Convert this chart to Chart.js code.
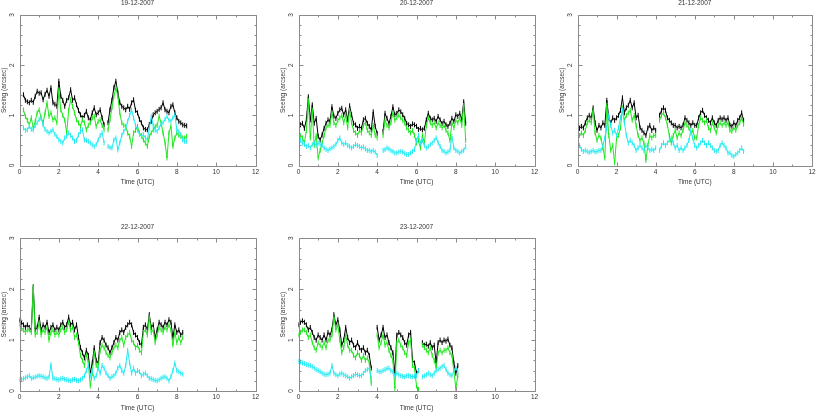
<!DOCTYPE html>
<html><head><meta charset="utf-8">
<script src="https://cdn.jsdelivr.net/npm/chart.js@4.4.1/dist/chart.umd.min.js"></script>
<style>
html,body{margin:0;padding:0;background:#fff;overflow:hidden;width:817px;height:412px;position:relative}
canvas{position:absolute}
</style></head><body>
<script>
// ---------- data ----------
const TITLES = ["19-12-2007","20-12-2007","21-12-2007","22-12-2007","23-12-2007"];
const X_TITLE = "Time (UTC)";
const Y_TITLE = "Seeing (arcsec)";
const X_TICKS = [0,2,4,6,8,10,12];
const Y_TICKS = [0,1,2,3];

const T_P1 = [0.2,0.3,0.4,0.5,0.6,0.7,0.8,0.9,1.0,1.1,1.2,1.3,1.4,1.5,1.6,1.7,1.8,1.9,2.0,2.1,2.2,2.3,2.4,2.5,2.6,2.7,2.8,2.9,3.0,3.1,3.2,3.3,3.4,3.5,3.6,3.7,3.8,3.9,4.0,4.1,4.2,4.3,4.4,4.5,4.6,4.7,4.8,4.9,5.0,5.1,5.2,5.3,5.4,5.5,5.6,5.7,5.8,5.9,6.0,6.1,6.2,6.3,6.4,6.5,6.6,6.7,6.8,6.9,7.0,7.1,7.2,7.3,7.4,7.5,7.6,7.7,7.8,7.9,8.0,8.1,8.2,8.3,8.4,8.5];
const T_P23 = [0.1,0.2,0.3,0.4,0.5,0.6,0.7,0.8,0.9,1.0,1.1,1.2,1.3,1.4,1.5,1.6,1.7,1.8,1.9,2.0,2.1,2.2,2.3,2.4,2.5,2.6,2.7,2.8,2.9,3.0,3.1,3.2,3.3,3.4,3.5,3.6,3.7,3.8,3.9,4.0,4.1,4.2,4.3,4.4,4.5,4.6,4.7,4.8,4.9,5.0,5.1,5.2,5.3,5.4,5.5,5.6,5.7,5.8,5.9,6.0,6.1,6.2,6.3,6.4,6.5,6.6,6.7,6.8,6.9,7.0,7.1,7.2,7.3,7.4,7.5,7.6,7.7,7.8,7.9,8.0,8.1,8.2,8.3,8.4,8.5];
const T_P4 = [0.0,0.1,0.2,0.3,0.4,0.5,0.6,0.7,0.8,0.9,1.0,1.1,1.2,1.3,1.4,1.5,1.6,1.7,1.8,1.9,2.0,2.1,2.2,2.3,2.4,2.5,2.6,2.7,2.8,2.9,3.0,3.1,3.2,3.3,3.4,3.5,3.6,3.7,3.8,3.9,4.0,4.1,4.2,4.3,4.4,4.5,4.6,4.7,4.8,4.9,5.0,5.1,5.2,5.3,5.4,5.5,5.6,5.7,5.8,5.9,6.0,6.1,6.2,6.3,6.4,6.5,6.6,6.7,6.8,6.9,7.0,7.1,7.2,7.3,7.4,7.5,7.6,7.7,7.8,7.9,8.0,8.1,8.2,8.3];
const T_P5 = [0.0,0.1,0.2,0.3,0.4,0.5,0.6,0.7,0.8,0.9,1.0,1.1,1.2,1.3,1.4,1.5,1.6,1.7,1.8,1.9,2.0,2.1,2.2,2.3,2.4,2.5,2.6,2.7,2.8,2.9,3.0,3.1,3.2,3.3,3.4,3.5,3.6,3.7,3.8,3.9,4.0,4.1,4.2,4.3,4.4,4.5,4.6,4.7,4.8,4.9,5.0,5.1,5.2,5.3,5.4,5.5,5.6,5.7,5.8,5.9,6.0,6.1,6.2,6.3,6.4,6.5,6.6,6.7,6.8,6.9,7.0,7.1,7.2,7.3,7.4,7.5,7.6,7.7,7.8,7.9,8.0,8.1];

// 19-12-2007
const BLACK_1 = [1.41,1.30,1.27,1.25,1.30,1.26,1.38,1.48,1.44,1.45, 1.31,1.42,1.50,1.38,1.55,1.25,1.22,1.18,1.68,1.38, 1.30,1.18,1.30,1.35,1.51,1.30,1.35,1.21,1.10,1.01, 0.95,1.00,1.08,0.95,0.91,1.05,1.15,1.01,1.05,1.11, 0.95,0.81,null,0.85,1.11,1.30,1.55,1.68,1.45,1.25, 1.18,1.15,1.11,1.18,1.12,1.25,1.31,1.10,1.05,0.92, 0.85,0.75,0.72,0.71,0.82,0.88,1.01,1.05,1.08,1.12, 1.15,1.25,1.11,1.08,1.05,1.18,1.21,1.05,0.95,0.88, 0.85,0.81,0.80,0.79];
const GREEN_1 = [1.11,0.98,0.90,0.81,0.95,0.75,0.88,1.05,1.11,0.95, 0.85,1.05,1.25,0.98,1.05,0.91,0.95,0.85,1.51,1.11, 1.00,0.91,0.65,1.10,1.31,1.18,1.05,0.91,0.85,0.78, 0.91,0.85,0.71,0.80,0.85,0.95,0.98,0.78,0.88,0.91, 0.80,0.71,null,0.71,0.91,1.15,1.38,1.55,1.38,1.05, 0.85,0.80,0.78,0.65,0.58,0.38,0.65,0.70,0.78,0.65, 0.60,0.51,0.45,0.38,0.58,0.65,0.71,0.78,0.80,0.98, 0.85,0.65,0.45,0.15,0.65,0.78,0.38,0.55,0.65,0.60, 0.58,0.55,0.55,0.58];
const CYAN_1 = [0.75,0.70,0.71,0.78,0.72,0.71,0.80,0.85,0.92,0.95, 0.81,0.72,0.68,0.65,0.68,0.71,0.62,0.58,0.51,0.48, 0.45,0.55,0.58,0.65,0.60,0.55,0.48,0.50,0.61,0.68, 0.71,0.51,0.50,0.48,0.45,0.41,0.38,0.42,0.51,0.60, 0.65,0.45,null,0.38,0.36,0.35,0.51,0.55,0.31,0.45, 0.60,0.68,0.75,0.88,1.00,1.11,0.95,0.80,0.71,0.62, 0.58,0.62,0.55,0.51,0.75,0.98,0.80,0.70,0.68,0.75, 0.82,0.85,0.92,0.98,0.90,0.88,0.95,1.01,0.71,0.68, 0.62,0.51,0.48,0.48];

// 20-12-2007
const BLACK_2 = [0.81,0.84,0.74,0.91,1.37,0.91,1.21,0.84,0.94,0.58, 0.51,0.61,0.74,0.84,0.91,0.88,1.17,0.98,0.94,1.04, 1.11,1.14,1.01,1.11,0.91,1.19,1.01,0.84,0.81,0.74, 0.78,0.74,0.91,0.94,0.84,0.78,0.71,1.07,0.78,0.64, null,null,0.68,1.04,0.94,0.84,0.98,1.17,1.01,1.04, 1.11,1.07,1.01,0.94,0.84,0.81,0.78,0.83,0.81,0.78, 0.72,0.74,0.71,0.74,0.91,1.04,0.94,0.91,0.94,0.88, 0.98,0.91,0.84,0.88,0.81,0.78,0.84,0.94,0.88,1.01, 0.98,1.04,0.91,1.27,0.84];
const GREEN_2 = [0.60,0.55,0.45,0.70,1.30,0.55,1.10,0.40,0.60,0.15, 0.30,0.45,0.60,0.75,0.80,0.80,1.05,0.85,0.80,0.90, 0.95,1.00,0.85,1.00,0.75,1.10,0.85,0.70,0.65,0.60, 0.70,0.65,0.80,0.85,0.70,0.65,0.60,0.80,0.60,0.55, null,null,0.60,0.90,0.80,0.75,0.85,1.05,0.90,0.95, 1.00,0.95,0.90,0.85,0.75,0.70,0.65,0.70,0.60,0.45, 0.50,0.35,0.60,0.45,0.80,0.95,0.85,0.80,0.85,0.75, 0.85,0.80,0.75,0.80,0.70,0.65,0.50,0.85,0.75,0.90, 0.85,0.95,0.80,1.20,0.50];
const CYAN_2 = [0.50,0.45,0.42,0.38,0.40,0.35,0.42,0.45,0.40,0.45, 0.42,0.40,0.35,0.32,0.30,0.33,0.35,0.38,0.42,0.50, 0.55,0.45,0.42,0.45,0.40,0.38,0.35,0.38,0.42,0.40, 0.38,0.35,0.37,0.33,0.30,0.30,0.28,0.30,0.27,0.20, null,null,0.30,0.32,0.35,0.33,0.30,0.28,0.25,0.25, 0.27,0.28,0.27,0.24,0.22,0.22,0.25,0.28,0.32,0.50, 0.60,0.45,0.50,0.40,0.35,0.38,0.42,0.45,0.50,0.55, 0.45,0.38,0.30,0.28,0.25,0.27,0.30,0.58,0.35,0.30, 0.28,0.25,0.28,0.30,0.38];

// 21-12-2007
const BLACK_3 = [0.74,0.78,0.75,0.85,0.95,1.00,0.95,1.15,0.85,0.70, 0.80,0.75,0.85,0.80,1.30,0.95,0.85,0.95,0.90,0.95, 1.00,1.10,1.35,1.05,1.15,1.20,1.30,1.15,1.25,0.95, 1.00,0.75,0.70,0.65,0.60,0.75,0.80,0.70,0.75,0.70, null,1.00,1.10,1.15,1.10,0.95,0.90,0.85,0.80,0.80, 0.75,0.78,0.75,0.80,0.95,0.90,0.85,0.80,0.85,0.80, 0.80,0.95,1.05,1.10,1.00,0.95,0.90,0.85,0.95,0.85, 0.80,0.90,0.95,0.92,0.95,0.90,0.95,0.80,0.78,0.85, 0.80,0.90,0.95,1.05,0.90];
const GREEN_3 = [0.60,0.65,0.60,0.70,0.85,0.90,0.85,1.10,0.65,0.50, 0.60,0.55,0.35,0.15,1.20,0.60,0.30,0.40,0.05,0.55, 0.60,0.75,1.15,0.90,1.00,1.05,1.10,0.90,1.00,0.80, 0.60,0.50,0.55,0.45,0.10,0.40,0.60,0.55,0.60,0.60, null,0.90,1.00,1.05,0.95,0.80,0.60,0.45,0.60,0.70, 0.55,0.65,0.60,0.70,0.85,0.80,0.75,0.65,0.70,0.55, 0.55,0.80,0.95,0.90,0.85,0.90,0.75,0.70,0.85,0.75, 0.65,0.80,0.85,0.80,0.85,0.80,0.85,0.70,0.68,0.75, 0.70,0.80,0.85,0.95,0.82];
const CYAN_3 = [0.40,0.32,0.28,0.30,0.28,0.26,0.28,0.30,0.27,0.28, 0.30,0.30,0.40,0.55,0.75,1.00,0.80,0.65,0.70,0.60, 0.75,0.95,1.10,0.85,0.60,0.45,0.50,0.45,0.40,0.30, 0.35,0.40,0.35,0.30,0.40,0.35,0.30,0.32,0.30,0.35, null,0.30,0.40,0.45,0.40,0.45,0.50,0.55,0.45,0.35, 0.40,0.30,0.35,0.30,0.35,0.40,0.50,0.70,0.55,0.40, 0.35,0.40,0.45,0.50,0.45,0.40,0.45,0.40,0.35,0.30, 0.28,0.30,0.40,0.45,0.40,0.35,0.25,0.25,0.20,0.18, 0.22,0.25,0.30,0.35,0.28];

// 22-12-2007
const BLACK_4 = [1.39,1.35,1.30,1.25,1.30,1.25,1.20,2.05,1.20,1.25, 1.45,1.20,1.30,1.25,1.35,1.15,1.25,1.30,1.20,1.25, 1.20,1.30,1.35,1.25,1.30,1.45,1.30,1.35,1.20,1.30, 1.05,0.85,0.75,0.65,0.80,0.70,0.35,0.55,0.85,0.60, 0.55,0.95,1.05,1.00,0.90,0.85,0.75,0.85,0.95,1.05, 1.00,1.15,1.20,1.15,1.25,1.30,1.35,1.30,1.15,1.10, 1.05,0.95,0.90,1.25,1.30,1.20,1.50,1.25,1.30,1.05, 1.20,1.35,1.30,1.25,1.35,1.30,1.40,1.35,1.05,1.30, 1.15,1.20,1.10,1.15];
const GREEN_4 = [1.30,1.25,1.20,1.15,1.20,1.20,1.15,2.05,1.10,1.15, 1.35,1.10,1.20,1.15,1.25,1.00,1.15,1.20,1.10,1.15, 1.10,1.20,1.25,1.15,1.20,1.35,1.20,1.25,1.05,1.10, 0.95,0.70,0.60,0.50,0.70,0.55,0.10,0.35,0.75,0.50, 0.45,0.80,0.90,0.85,0.75,0.70,0.65,0.75,0.85,0.90, 0.85,1.00,1.05,0.90,1.05,1.10,1.15,1.00,0.95,0.85, 0.90,0.80,0.75,1.15,1.20,1.10,1.45,1.15,1.20,0.95, 1.10,1.25,1.20,1.15,1.25,1.20,1.30,1.20,0.90,1.15, 0.95,1.05,0.95,1.05];
const CYAN_4 = [0.22,0.23,0.24,0.26,0.28,0.30,0.25,0.26,0.27,0.29, 0.30,0.29,0.28,0.26,0.25,0.27,0.52,0.25,0.24,0.23, 0.22,0.24,0.25,0.23,0.22,0.21,0.20,0.22,0.23,0.21, 0.20,0.22,0.25,0.30,0.40,0.50,0.30,0.40,0.25,0.30, 0.45,0.35,0.50,0.45,0.35,0.30,0.25,0.28,0.30,0.35, 0.45,0.50,0.40,0.35,0.50,0.80,0.55,0.35,0.45,0.35, 0.40,0.38,0.30,0.33,0.35,0.30,0.25,0.24,0.22,0.21, 0.20,0.22,0.25,0.27,0.28,0.25,0.20,0.28,0.40,0.55, 0.40,0.38,0.35,0.33];

// 23-12-2007
const BLACK_5 = [1.30,1.35,1.38,1.35,1.30,1.20,1.25,1.15,1.05,1.00, 1.10,1.05,1.00,1.10,1.00,1.15,1.10,1.20,1.50,1.30, 1.40,1.20,0.90,1.00,1.25,1.05,0.95,1.00,0.90,0.85, 0.95,0.85,0.80,0.85,0.75,0.80,0.70,0.45,null,null, 1.25,1.00,1.10,1.25,1.05,1.10,0.95,0.85,0.75,0.35, 1.10,1.15,1.10,1.05,0.95,0.90,1.10,1.15,0.60,0.55, 0.35,0.40,null,0.95,0.90,0.92,0.88,0.95,0.85,0.90, 0.55,0.95,1.00,0.95,1.00,0.98,1.02,0.90,0.85,0.55, 0.35,0.50];
const GREEN_5 = [1.10,1.15,1.20,1.20,1.15,1.05,1.10,0.95,0.85,0.80, 0.95,0.90,0.85,0.95,0.85,1.00,1.00,1.10,1.45,1.20, 1.30,1.00,0.75,0.85,1.10,0.90,0.80,0.80,0.70,0.65, 0.75,0.70,0.60,0.70,0.60,0.65,0.55,0.15,null,null, 1.10,0.85,0.95,1.10,0.90,0.95,0.80,0.70,0.60,0.05, 0.95,1.00,0.90,0.85,0.75,0.70,0.95,1.00,0.50,0.45, 0.10,0.03,null,0.90,0.85,0.80,0.75,0.85,0.70,0.60, 0.45,0.75,0.80,0.75,0.80,0.80,0.85,0.75,0.70,0.40, 0.05,0.30];
const CYAN_5 = [0.58,0.57,0.55,0.54,0.52,0.51,0.50,0.48,0.45,0.42, 0.40,0.38,0.35,0.33,0.32,0.33,0.35,0.50,0.35,0.32, 0.30,0.33,0.35,0.32,0.30,0.28,0.25,0.28,0.30,0.33, 0.32,0.30,0.30,0.35,0.40,0.42,0.45,0.25,null,null, 0.40,0.38,0.38,0.40,0.42,0.44,0.45,0.40,0.38,0.30, 0.35,0.32,0.30,0.29,0.28,0.30,0.30,0.29,0.28,0.29, 0.30,0.40,null,0.28,0.30,0.32,0.35,0.32,0.30,0.35, 0.40,0.42,0.45,0.48,0.50,0.42,0.35,0.32,0.30,0.40, 0.45,0.38];

const PANELS = [
  {title:TITLES[0], t:T_P1,  k:BLACK_1, g:GREEN_1, c:CYAN_1},
  {title:TITLES[1], t:T_P23, k:BLACK_2, g:GREEN_2, c:CYAN_2},
  {title:TITLES[2], t:T_P23, k:BLACK_3, g:GREEN_3, c:CYAN_3},
  {title:TITLES[3], t:T_P4,  k:BLACK_4, g:GREEN_4, c:CYAN_4},
  {title:TITLES[4], t:T_P5,  k:BLACK_5, g:GREEN_5, c:CYAN_5}
];

// ---------- layout ----------
const LAYOUT = [
  {left:0,   top:0,   w:272, h:200, pl:19.5, pt:15,   pw:236, ph:150.5},
  {left:279, top:0,   w:272, h:200, pl:19.5, pt:15,   pw:236, ph:150.5},
  {left:558, top:0,   w:259, h:200, pl:19.5, pt:15,   pw:236, ph:150.5},
  {left:0,   top:223, w:272, h:189, pl:19.5, pt:15.3, pw:236, ph:152.7},
  {left:279, top:223, w:272, h:189, pl:19.5, pt:15.3, pw:236, ph:152.7}
];
const COL_K = '#000000', COL_G = '#1ee81e', COL_C = '#22eaf2';
const FONT = '6.5px "Liberation Sans", Arial, sans-serif';
const TXT = '#333333', FRAME = '#8a8a8a';

const framePlugin = {
  id: 'pgframe',
  afterDraw(chart, args, opts) {
    const {ctx, chartArea: a, scales: {x, y}} = chart;
    ctx.save();
    ctx.strokeStyle = FRAME; ctx.lineWidth = 1;
    const L = Math.round(a.left)+0.5, R = Math.round(a.right)+0.5, T = Math.round(a.top)+0.5, B = Math.round(a.bottom)+0.5;
    ctx.beginPath(); ctx.rect(L, T, R-L, B-T); ctx.stroke();
    ctx.beginPath();
    for (let v = 0; v <= 12; v += 1) {
      const px = Math.round(x.getPixelForValue(v)) + 0.5;
      const len = (v % 2 === 0) ? 4 : 2;
      ctx.moveTo(px, B); ctx.lineTo(px, B - len);
      ctx.moveTo(px, T); ctx.lineTo(px, T + len);
    }
    for (let i = 0; i <= 15; i++) {
      const v = i * 0.2;
      const py = Math.round(y.getPixelForValue(v)) + 0.5;
      const len = (i % 5 === 0) ? 4 : 2;
      ctx.moveTo(L, py); ctx.lineTo(L + len, py);
      ctx.moveTo(R, py); ctx.lineTo(R - len, py);
    }
    ctx.stroke();
    // texts
    ctx.fillStyle = TXT; ctx.font = FONT;
    ctx.textAlign = 'center'; ctx.textBaseline = 'middle';
    const cx = (a.left + a.right) / 2, cy = (a.top + a.bottom) / 2;
    ctx.fillText(opts.title, cx, a.top - 11.5);
    X_TICKS.forEach(v => ctx.fillText(String(v), x.getPixelForValue(v), a.bottom + 6.5));
    ctx.fillText(X_TITLE, cx, a.bottom + 17);
    Y_TICKS.forEach(v => {
      ctx.save();
      ctx.translate(a.left - 7, y.getPixelForValue(v));
      ctx.rotate(-Math.PI / 2);
      ctx.fillText(String(v), 0, 0);
      ctx.restore();
    });
    ctx.save();
    ctx.translate(a.left - 15.5, cy);
    ctx.rotate(-Math.PI / 2);
    ctx.fillText(Y_TITLE, 0, 0);
    ctx.restore();
    ctx.restore();
  }
};

function mkSet(t, vals, color, order) {
  return {
    data: t.map((tt, i) => ({x: tt, y: vals[i]})),
    borderColor: color, backgroundColor: color,
    borderWidth: 1, pointStyle: 'line', pointRotation: 90,
    pointRadius: 2.5, pointBorderWidth: 1, pointBorderColor: color,
    spanGaps: false, tension: 0, order: order
  };
}

PANELS.forEach((p, i) => {
  const L = LAYOUT[i];
  const cv = document.createElement('canvas');
  cv.width = L.w; cv.height = L.h;
  cv.style.left = L.left + 'px'; cv.style.top = L.top + 'px';
  cv.style.width = L.w + 'px'; cv.style.height = L.h + 'px';
  document.body.appendChild(cv);
  new Chart(cv, {
    type: 'line',
    data: { datasets: [
      mkSet(p.t, p.k, COL_K, 3),
      mkSet(p.t, p.g, COL_G, 2),
      mkSet(p.t, p.c, COL_C, 1)
    ]},
    options: {
      responsive: false, animation: false, devicePixelRatio: 1,
      layout: { padding: { left: L.pl, top: L.pt, right: L.w - L.pl - L.pw, bottom: L.h - L.pt - L.ph } },
      plugins: { legend: {display: false}, tooltip: {enabled: false}, title: {display: false},
                 pgframe: { title: p.title } },
      scales: {
        x: { type: 'linear', min: 0, max: 12, display: false },
        y: { type: 'linear', min: 0, max: 3, display: false }
      },
      elements: { line: { borderJoinStyle: 'round' } }
    },
    plugins: [framePlugin]
  });
});
</script>
</body></html>
